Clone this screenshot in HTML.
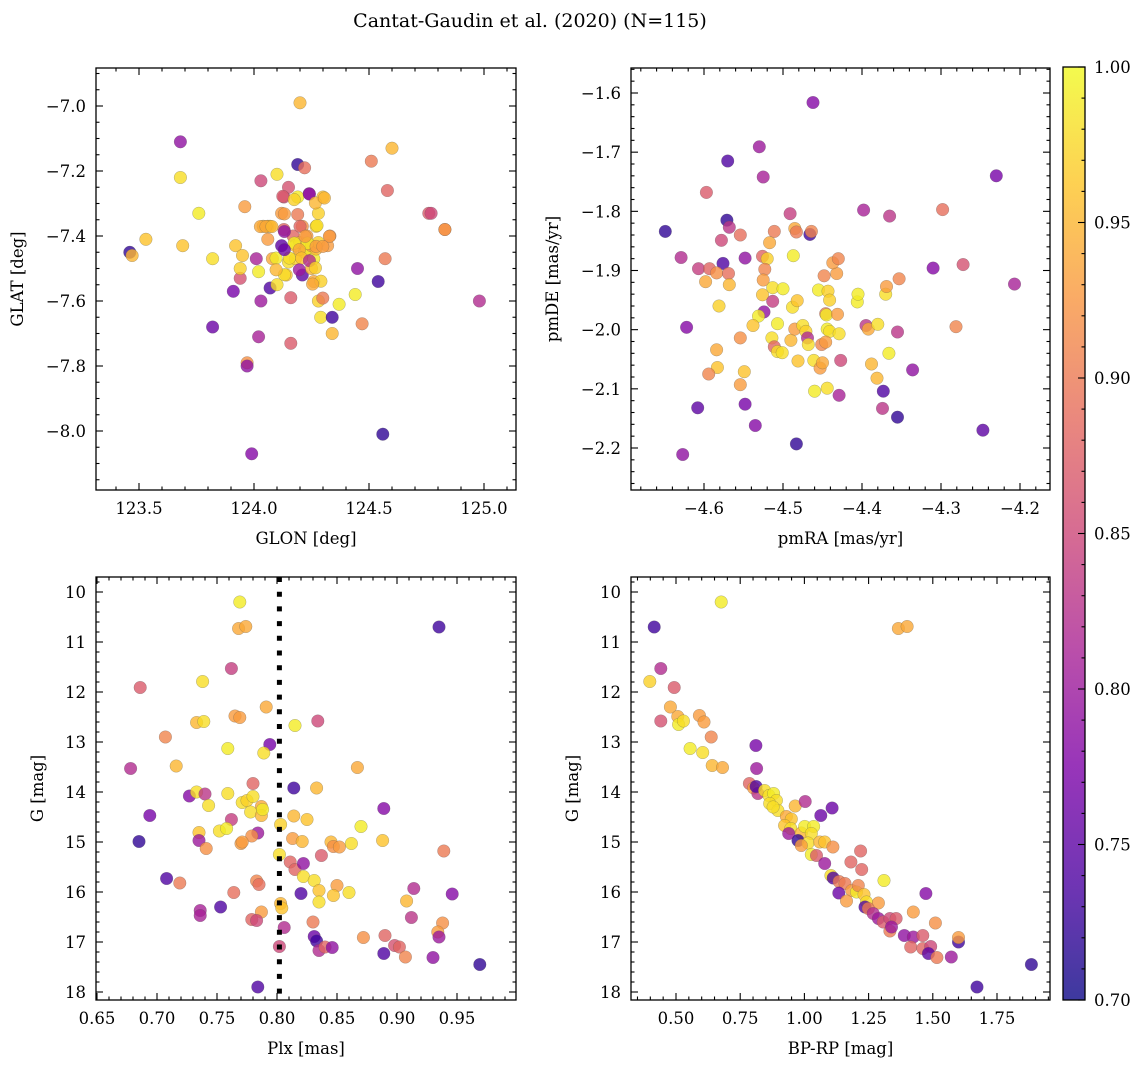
<!DOCTYPE html>
<html><head><meta charset="utf-8">
<style>
html,body{margin:0;padding:0;background:#fff;}
svg{display:block;font-family:"DejaVu Serif","Liberation Serif",serif;}
</style></head>
<body>
<svg id="fig" width="1148" height="1067" viewBox="0 0 1148 1067" xmlns="http://www.w3.org/2000/svg">
<defs>
<linearGradient id="cbgrad" x1="0" y1="1" x2="0" y2="0">
<stop offset="0" stop-color="#0d0887"/><stop offset="0.125" stop-color="#4c02a1"/><stop offset="0.25" stop-color="#7e03a8"/><stop offset="0.375" stop-color="#a92395"/><stop offset="0.5" stop-color="#cc4778"/><stop offset="0.625" stop-color="#e56b5d"/><stop offset="0.75" stop-color="#f89540"/><stop offset="0.875" stop-color="#fdc527"/><stop offset="1" stop-color="#f0f921"/>
</linearGradient>
</defs>
<text x="530" y="27" font-size="19" text-anchor="middle">Cantat-Gaudin et al. (2020) (N=115)</text>
</svg>
<script>
// Panel 1: GLON / GLAT / membership prob
const p1Glon=[123.46,123.47,123.53,123.68,123.68,123.69,123.76,123.82,123.82,123.91,123.92,123.94,123.94,123.95,123.96,123.97,123.97,123.99,124.01,124.02,124.02,124.03,124.03,124.04,124.06,124.06,124.07,124.07,124.08,124.10,124.10,124.12,124.12,124.13,124.13,124.14,124.15,124.15,124.16,124.16,124.17,124.18,124.18,124.19,124.19,124.20,124.20,124.21,124.21,124.22,124.22,124.23,124.23,124.24,124.25,124.25,124.26,124.26,124.27,124.27,124.28,124.28,124.28,124.29,124.30,124.32,124.33,124.34,124.34,124.37,124.44,124.45,124.47,124.51,124.54,124.56,124.57,124.58,124.60,124.76,124.77,124.83,124.83,124.98,
124.125,124.175,124.241,124.267,124.306,124.132,124.190,124.028,124.052,124.078,124.132,124.200,124.274,124.328,124.175,124.233,124.270,124.299,124.197,124.154,124.096,124.207,124.241,124.267,124.197,124.132,124.096,124.291,124.255,124.299,124.132,124.222];
const p1Glat=[-7.45,-7.46,-7.41,-7.11,-7.22,-7.43,-7.33,-7.47,-7.68,-7.57,-7.43,-7.53,-7.50,-7.46,-7.31,-7.79,-7.80,-8.07,-7.47,-7.51,-7.71,-7.60,-7.23,-7.37,-7.37,-7.41,-7.37,-7.56,-7.47,-7.55,-7.21,-7.43,-7.33,-7.38,-7.28,-7.52,-7.48,-7.25,-7.59,-7.73,-7.40,-7.43,-7.47,-7.18,-7.28,-6.99,-7.42,-7.52,-7.37,-7.19,-7.45,-7.40,-7.44,-7.27,-7.43,-7.50,-7.47,-7.54,-7.44,-7.37,-7.42,-7.33,-7.60,-7.65,-7.28,-7.43,-7.40,-7.70,-7.65,-7.61,-7.58,-7.50,-7.67,-7.17,-7.54,-8.01,-7.47,-7.26,-7.13,-7.33,-7.33,-7.38,-7.38,-7.60,
-7.278,-7.288,-7.271,-7.298,-7.283,-7.332,-7.334,-7.371,-7.371,-7.371,-7.386,-7.370,-7.368,-7.401,-7.422,-7.422,-7.432,-7.432,-7.442,-7.468,-7.468,-7.468,-7.476,-7.498,-7.504,-7.519,-7.504,-7.539,-7.548,-7.591,-7.442,-7.401];
const p1Prob=[.72,.95,.96,.79,.98,.96,.99,.98,.76,.77,.96,.86,.97,.96,.93,.92,.79,.78,.81,.99,.81,.80,.85,.95,.95,.93,.96,.74,.94,.98,.98,.75,.93,.88,.85,.96,.98,.86,.87,.87,.88,.96,.97,.72,.99,.95,.95,.75,.92,.89,.94,.93,.99,.80,.93,.95,.99,.94,.95,.97,.97,.97,.97,.98,.96,.93,.92,.95,.73,.99,.99,.79,.91,.90,.73,.72,.90,.88,.95,.87,.85,.93,.92,.82,
.87,.97,.79,.95,.95,.93,.90,.94,.94,.95,.79,.88,.98,.93,.99,.99,.93,.93,.94,.98,.99,.96,.82,.97,.80,.98,.95,.97,.94,.90,.76,.93];
// Panel 2: pmRA / pmDE
const p2Pmra=[-4.462,-4.530,-4.570,-4.525,-4.230,-4.597,-4.398,-4.365,-4.298,-4.491,-4.571,-4.568,-4.649,-4.578,-4.554,-4.511,-4.485,-4.483,-4.466,-4.464,-4.517,-4.629,-4.548,-4.526,-4.520,-4.487,-4.576,-4.607,-4.593,-4.584,-4.569,-4.598,-4.568,-4.523,-4.525,-4.526,-4.513,-4.500,-4.513,-4.581,-4.524,-4.531,-4.538,-4.622,-4.554,-4.584,-4.583,-4.594,-4.549,-4.554,-4.608,-4.548,-4.535,-4.627,-4.483,-4.507,-4.514,-4.511,-4.507,-4.501,-4.490,-4.485,-4.481,-4.488,-4.482,-4.475,-4.471,-4.469,-4.468,-4.461,-4.460,-4.455,-4.443,-4.441,-4.448,-4.432,-4.437,-4.430,-4.446,-4.445,-4.431,-4.444,-4.441,-4.429,-4.451,-4.446,-4.453,-4.450,-4.444,-4.429,-4.427,-4.406,-4.405,-4.395,-4.392,-4.380,-4.388,-4.381,-4.366,-4.370,-4.369,-4.353,-4.355,-4.373,-4.374,-4.355,-4.336,-4.310,-4.272,-4.281,-4.207,-4.247];
const p2Pmde=[-1.616,-1.691,-1.715,-1.742,-1.740,-1.768,-1.798,-1.808,-1.797,-1.804,-1.815,-1.827,-1.834,-1.849,-1.840,-1.834,-1.829,-1.835,-1.839,-1.834,-1.853,-1.878,-1.879,-1.876,-1.880,-1.875,-1.888,-1.897,-1.897,-1.904,-1.905,-1.919,-1.924,-1.898,-1.916,-1.941,-1.929,-1.931,-1.952,-1.960,-1.970,-1.977,-1.993,-1.996,-2.014,-2.034,-2.064,-2.075,-2.071,-2.093,-2.132,-2.126,-2.162,-2.211,-2.193,-1.990,-2.014,-2.029,-2.037,-2.039,-2.018,-1.999,-2.053,-1.962,-1.951,-1.993,-2.003,-2.014,-2.025,-2.052,-2.104,-1.933,-1.935,-1.950,-1.909,-1.905,-1.887,-1.880,-1.973,-1.975,-1.974,-1.999,-2.003,-2.007,-2.025,-2.021,-2.065,-2.056,-2.099,-2.111,-2.052,-1.953,-1.940,-1.993,-1.999,-1.991,-2.058,-2.082,-2.040,-1.940,-1.927,-1.914,-2.004,-2.104,-2.133,-2.148,-2.068,-1.896,-1.890,-1.995,-1.923,-2.170];
const p2Prob=[.78,.80,.74,.81,.77,.87,.81,.83,.89,.84,.72,.83,.72,.85,.89,.90,.94,.90,.73,.91,.94,.82,.79,.88,.97,.99,.74,.84,.88,.92,.89,.94,.95,.91,.93,.96,.98,.99,.84,.97,.79,.99,.96,.78,.92,.94,.96,.91,.96,.93,.75,.77,.78,.79,.72,.99,.98,.88,.98,.98,.95,.93,.96,.98,.96,.98,.97,.82,.98,.98,.99,.99,.97,.97,.91,.93,.93,.91,.90,.99,.93,.99,.98,.98,.91,.93,.93,.94,.98,.81,.85,.99,.99,.83,.94,.98,.95,.95,.99,.98,.93,.91,.83,.74,.83,.72,.79,.78,.86,.91,.81,.75];
// Panel 3: Plx / G
const p3Plx=[0.769,0.768,0.774,0.935,0.762,0.686,0.738,0.791,0.733,0.739,0.765,0.769,0.815,0.834,0.707,0.794,0.789,0.759,0.678,0.716,0.867,0.780,0.814,0.833,0.727,0.733,0.740,0.759,0.743,0.771,0.775,0.780,0.787,0.778,0.787,0.788,0.694,0.762,0.889,0.814,0.825,0.803,0.870,0.735,0.735,0.752,0.758,0.784,0.779,0.770,0.771,0.741,0.685,0.813,0.821,0.845,0.847,0.852,0.862,0.888,0.939,0.837,0.802,0.811,0.815,0.822,0.822,0.831,0.835,0.835,0.850,0.847,0.860,0.708,0.719,0.783,0.785,0.764,0.820,0.914,0.946,0.908,0.803,0.804,0.753,0.736,0.736,0.787,0.779,0.783,0.912,0.830,0.938,0.934,0.935,0.806,0.831,0.833,0.835,0.840,0.846,0.872,0.890,0.898,0.902,0.907,0.889,0.930,0.802,0.969,0.784];
const p3G=[10.2,10.73,10.69,10.7,11.53,11.91,11.79,12.3,12.61,12.59,12.48,12.51,12.67,12.58,12.9,13.05,13.22,13.13,13.53,13.48,13.51,13.83,13.92,13.92,14.08,14.0,14.04,14.03,14.27,14.21,14.17,14.09,14.29,14.4,14.47,14.35,14.47,14.55,14.33,14.48,14.55,14.65,14.69,14.81,14.97,14.78,14.73,14.82,14.88,15.03,15.0,15.13,14.99,14.93,14.99,15.0,15.09,15.1,15.03,14.97,15.18,15.27,15.25,15.4,15.55,15.43,15.69,15.77,15.97,16.2,15.87,16.07,16.01,15.73,15.82,15.78,15.85,16.01,16.03,15.93,16.04,16.18,16.23,16.32,16.3,16.37,16.47,16.4,16.55,16.57,16.51,16.6,16.62,16.8,16.9,16.71,16.89,16.98,17.17,17.1,17.11,16.91,16.87,17.07,17.1,17.3,17.23,17.31,17.09,17.45,17.9];
const p3Prob=[.99,.94,.94,.73,.84,.87,.98,.94,.95,.98,.93,.93,.99,.85,.91,.77,.98,.99,.82,.95,.94,.88,.73,.95,.78,.98,.83,.98,.98,.98,.97,.98,.94,.98,.95,.99,.77,.84,.78,.95,.96,.97,.99,.96,.80,.98,.99,.80,.92,.93,.93,.92,.72,.93,.95,.95,.92,.93,.98,.96,.90,.87,.98,.88,.88,.79,.98,.98,.96,.98,.93,.96,.98,.74,.90,.91,.89,.89,.74,.82,.78,.95,.95,.96,.74,.81,.81,.93,.88,.85,.83,.90,.92,.93,.80,.82,.76,.73,.82,.88,.79,.92,.88,.86,.88,.91,.74,.79,.85,.72,.74];
// Panel 4: BP-RP / G
const p4Bprp=[0.676,0.415,1.366,1.40,0.441,0.398,0.493,0.478,0.441,0.507,0.510,0.529,0.591,0.609,0.637,0.555,0.604,0.641,0.681,0.811,0.814,0.786,0.802,0.819,0.812,0.845,0.862,0.880,0.891,0.865,0.897,0.878,0.964,1.003,1.064,1.108,0.930,0.949,0.923,0.947,0.939,0.988,0.975,1.001,1.036,1.027,1.014,0.988,1.060,1.079,1.111,1.027,1.047,1.079,1.181,1.219,1.223,1.103,1.112,1.135,1.158,1.184,1.203,1.210,1.232,1.242,1.236,1.134,1.164,1.31,1.473,1.288,1.249,1.268,1.288,1.307,1.333,1.357,1.333,1.339,1.424,1.510,1.389,1.424,1.461,1.414,1.461,1.492,1.483,1.516,1.572,1.600,1.600,1.884,1.672];
const p4G=[10.2,10.7,10.73,10.69,11.53,11.79,11.91,12.3,12.58,12.49,12.65,12.58,12.47,12.6,12.9,13.13,13.21,13.47,13.51,13.07,13.53,13.83,13.92,14.03,13.89,13.97,14.07,14.03,14.17,14.23,14.37,14.3,14.28,14.19,14.47,14.32,14.49,14.54,14.67,14.73,14.83,14.82,14.97,14.69,14.69,14.83,15.02,15.07,15.0,15.0,15.1,15.25,15.27,15.43,15.4,15.18,15.55,15.67,15.72,15.79,15.83,15.97,16.0,15.87,16.05,16.2,16.3,16.02,16.18,15.77,16.03,16.22,16.33,16.43,16.53,16.6,16.53,16.53,16.78,16.7,16.4,16.62,16.87,16.9,16.87,17.1,17.13,17.09,17.23,17.31,17.3,17.0,16.91,17.45,17.9];
const p4Prob=[.99,.73,.94,.94,.82,.97,.87,.94,.86,.94,.99,.98,.93,.93,.91,.99,.98,.95,.94,.77,.80,.88,.93,.83,.74,.98,.98,.99,.98,.98,.98,.98,.95,.82,.76,.76,.94,.96,.96,.98,.80,.95,.72,.99,.99,.98,.98,.93,.95,.96,.92,.99,.87,.80,.88,.88,.88,.98,.74,.90,.90,.93,.99,.91,.96,.98,.74,.76,.93,.99,.78,.93,.90,.82,.80,.87,.85,.87,.90,.80,.93,.92,.79,.80,.87,.88,.88,.85,.75,.90,.80,.73,.93,.72,.73];
const cbTicks=[0.70,0.75,0.80,0.85,0.90,0.95,1.00];
const plxCut=0.802;

const NS='http://www.w3.org/2000/svg';
const svg=document.getElementById('fig');
function mk(tag,attrs,parent){const e=document.createElementNS(NS,tag);for(const k in attrs)e.setAttribute(k,attrs[k]);(parent||svg).appendChild(e);return e;}
function lin(d0,d1,r0,r1){return v=>r0+(v-d0)*(r1-r0)/(d1-d0);}
const stops=[[13,8,135],[76,2,161],[126,3,168],[169,35,149],[204,71,120],[229,107,93],[248,149,64],[253,197,39],[240,249,33]];
function plasma(p){let t=(p-0.70)/0.30;t=Math.max(0,Math.min(1,t));const f=t*8;const i=Math.min(7,Math.floor(f));const u=f-i;const a=stops[i],b=stops[i+1];return 'rgb('+a.map((c,k)=>Math.round(c+(b[k]-c)*u)).join(',')+')';}
function fmt(v,d){return (v<0?'\u2212':'')+Math.abs(v).toFixed(d);}

function panel(cfg){
  const g=mk('g',{});
  
  
  const X=lin(cfg.xd[0],cfg.xd[1],cfg.xr[0],cfg.xr[1]);
  const Y=lin(cfg.yd[0],cfg.yd[1],cfg.yr[0],cfg.yr[1]);
  const L=cfg.box[0],T=cfg.box[1],R=cfg.box[2],B=cfg.box[3];
  const xlo=cfg.xd[0]+(L-cfg.xr[0])*(cfg.xd[1]-cfg.xd[0])/(cfg.xr[1]-cfg.xr[0]);
  const xhi=cfg.xd[0]+(R-cfg.xr[0])*(cfg.xd[1]-cfg.xd[0])/(cfg.xr[1]-cfg.xr[0]);
  const ya=cfg.yd[0]+(T-cfg.yr[0])*(cfg.yd[1]-cfg.yd[0])/(cfg.yr[1]-cfg.yr[0]);
  const yb=cfg.yd[0]+(B-cfg.yr[0])*(cfg.yd[1]-cfg.yd[0])/(cfg.yr[1]-cfg.yr[0]);
  const ylo=Math.min(ya,yb),yhi=Math.max(ya,yb);
  const pts=mk('g',{},g);
  
  
  for(let i=0;i<cfg.xs.length;i++){
    const c=mk('circle',{cx:X(cfg.xs[i]).toFixed(1),cy:Y(cfg.ys[i]).toFixed(1),r:6.3,fill:plasma(cfg.ps[i]),'fill-opacity':0.8,stroke:'#555','stroke-opacity':0.45,'stroke-width':0.5},pts);
    
    
  }
  if(cfg.vline!==undefined){
    const vl=mk('line',{x1:X(cfg.vline),x2:X(cfg.vline),y1:T,y2:B,stroke:'#000','stroke-width':5,'stroke-dasharray':'5 9.7'},g);
    
    
  }
  const ax=mk('g',{stroke:'#000','stroke-width':1.1},g);
  
  
  const eps=1e-9;
  let s=Math.ceil(xlo/cfg.xmin-eps);
  for(let k=s;k*cfg.xmin<=xhi+eps;k++){const v=k*cfg.xmin;const px=X(v);const maj=Math.abs(v/cfg.xmaj-Math.round(v/cfg.xmaj))<1e-6;const len=maj?7:3.5;
    mk('line',{x1:px,x2:px,y1:B,y2:B-len},ax);mk('line',{x1:px,x2:px,y1:T,y2:T+len},ax);}
  s=Math.ceil(ylo/cfg.ymin-eps);
  for(let k=s;k*cfg.ymin<=yhi+eps;k++){const v=k*cfg.ymin;const py=Y(v);const maj=Math.abs(v/cfg.ymaj-Math.round(v/cfg.ymaj))<1e-6;const len=maj?7:3.5;
    mk('line',{y1:py,y2:py,x1:L,x2:L+len},ax);mk('line',{y1:py,y2:py,x1:R,x2:R-len},ax);}
  const fr=mk('rect',{x:L,y:T,width:R-L,height:B-T,fill:'none',stroke:'#000','stroke-width':1.3},g);
  
  
  cfg.xticks.forEach(v=>{const t=mk('text',{x:X(v),y:B+24,'font-size':16.5,'text-anchor':'middle'},g);t.textContent=fmt(v,cfg.xdec);
    });
  cfg.yticks.forEach(v=>{const t=mk('text',{x:L-10,y:Y(v)+6,'font-size':16.5,'text-anchor':'end'},g);t.textContent=fmt(v,cfg.ydec);
    });
  const xl=mk('text',{x:(L+R)/2,y:B+54,'font-size':16.5,'text-anchor':'middle'},g);xl.textContent=cfg.xlabel;
  
  const yl=mk('text',{x:0,y:0,'font-size':16.5,'text-anchor':'middle',transform:'translate('+cfg.ylabx+','+((T+B)/2)+') rotate(-90)'},g);yl.textContent=cfg.ylabel;
  
}

panel({name:'glon-glat-panel',xs:p1Glon,ys:p1Glat,ps:p1Prob,xd:[123.5,125.0],xr:[139,484],yd:[-7.0,-8.0],yr:[106,431],box:[96,68,516,490],
  xmaj:0.5,xmin:0.1,ymaj:0.2,ymin:0.05,xticks:[123.5,124.0,124.5,125.0],yticks:[-7.0,-7.2,-7.4,-7.6,-7.8,-8.0],xdec:1,ydec:1,xlabel:'GLON [deg]',ylabel:'GLAT [deg]',ylabx:23});
panel({name:'proper-motion-panel',xs:p2Pmra,ys:p2Pmde,ps:p2Prob,xd:[-4.6,-4.2],xr:[704,1020],yd:[-1.6,-2.2],yr:[93,448],box:[631,68,1050,490],
  xmaj:0.1,xmin:0.02,ymaj:0.1,ymin:0.02,xticks:[-4.6,-4.5,-4.4,-4.3,-4.2],yticks:[-1.6,-1.7,-1.8,-1.9,-2.0,-2.1,-2.2],xdec:1,ydec:1,xlabel:'pmRA [mas/yr]',ylabel:'pmDE [mas/yr]',ylabx:558});
panel({name:'parallax-mag-panel',xs:p3Plx,ys:p3G,ps:p3Prob,xd:[0.65,0.95],xr:[97,457],yd:[10,18],yr:[592,992],box:[96,577,516,1000],
  xmaj:0.05,xmin:0.01,ymaj:1,ymin:0.2,xticks:[0.65,0.70,0.75,0.80,0.85,0.90,0.95],yticks:[10,11,12,13,14,15,16,17,18],xdec:2,ydec:0,xlabel:'Plx [mas]',ylabel:'G [mag]',ylabx:43,vline:plxCut});
panel({name:'cmd-panel',xs:p4Bprp,ys:p4G,ps:p4Prob,xd:[0.5,1.75],xr:[676,997],yd:[10,18],yr:[592,992],box:[631,577,1050,1000],
  xmaj:0.25,xmin:0.05,ymaj:1,ymin:0.2,xticks:[0.50,0.75,1.00,1.25,1.50,1.75],yticks:[10,11,12,13,14,15,16,17,18],xdec:2,ydec:0,xlabel:'BP-RP [mag]',ylabel:'G [mag]',ylabx:578});

// colorbar
const cb=mk('g',{});


const CY=lin(0.70,1.00,1000,67);
const cr=mk('rect',{x:1063,y:67,width:22,height:933,fill:'url(#cbgrad)','fill-opacity':0.8},cb);


for(let k=70;k<=100;k++){const y=CY(k/100);const maj=k%5===0;mk('line',{x1:1085,x2:1085-(maj?7:3.5),y1:y,y2:y,stroke:'#000','stroke-width':1.1},cb);}
mk('rect',{x:1063,y:67,width:22,height:933,fill:'none',stroke:'#000','stroke-width':1.3},cb);
cbTicks.forEach(v=>{const t=mk('text',{x:1094,y:CY(v)+6,'font-size':16.5},cb);t.textContent=v.toFixed(2);
  });
</script>
</body></html>
